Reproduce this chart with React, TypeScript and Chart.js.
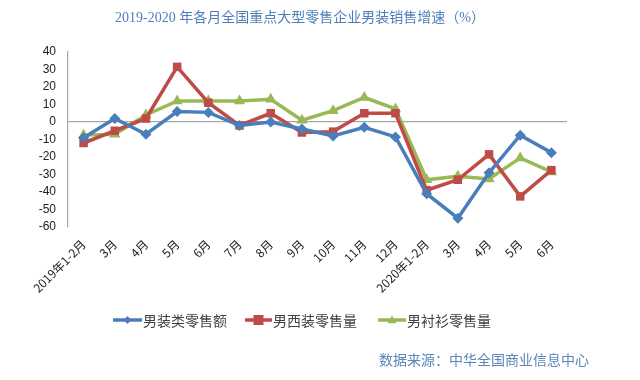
import React, { useEffect, useRef } from "react";
import { Chart, registerables } from "chart.js";

Chart.register(...registerables);

const categories = [
  "2019年1-2月", "3月", "4月", "5月", "6月", "7月", "8月", "9月", "10月", "11月", "12月",
  "2020年1-2月", "3月", "4月", "5月", "6月",
];
const menswearSales = [-9, 2, -7, 6, 5.5, -2, 0, -4, -8, -3, -8.5, -41, -55, -29, -7.5, -17.5];
const suitVolume = [-12, -5, 2, 31.5, 11, -2, 5, -6, -5.5, 5, 5, -39, -33, -18.5, -42.5, -27.5];
const shirtVolume = [-7.5, -7, 4, 12, 12, 12, 13, 1, 6.5, 14, 7.5, -33, -31, -32.5, -20.5, -28.5];
const seriesNames = ["男装类零售额", "男西装零售量", "男衬衫零售量"];
const yTicks = [40, 30, 20, 10, 0, -10, -20, -30, -40, -50, -60];
const titleText = "2019-2020 年各月全国重点大型零售企业男装销售增速（%）";
const sourceText = "数据来源：中华全国商业信息中心";

const COLORS = ["#4A7EBB", "#BE4B48", "#98B954"];
const STYLES = ["rectRot", "rect", "triangle"];
const SANS = '"Noto Sans CJK SC", "Noto Sans", sans-serif';

function drawMarker(ctx: CanvasRenderingContext2D, style: string, x: number, y: number, r: number) {
  ctx.beginPath();
  if (style === "rectRot") {
    ctx.moveTo(x, y - r);
    ctx.lineTo(x + r, y);
    ctx.lineTo(x, y + r);
    ctx.lineTo(x - r, y);
  } else if (style === "rect") {
    ctx.rect(x - r, y - r, 2 * r, 2 * r);
  } else {
    ctx.moveTo(x, y - r);
    ctx.lineTo(x + r, y + r * 0.7);
    ctx.lineTo(x - r, y + r * 0.7);
  }
  ctx.closePath();
  ctx.fill();
}

const decorPlugin = {
  id: "decor",
  afterDraw(chart: any) {
    const ctx = chart.ctx as CanvasRenderingContext2D;
    ctx.save();
    // title
    ctx.fillStyle = "#4F7FB8";
    ctx.font = '14px "Liberation Serif", "Noto Sans CJK SC", serif';
    ctx.textAlign = "center";
    ctx.textBaseline = "middle";
    ctx.fillText(titleText, 300, 18);
    // legend
    const lineX = [[113, 142], [245, 272], [378, 406]];
    const markR = [4, 5, 4.5];
    chart.data.datasets.forEach((ds: any, i: number) => {
      const [x0, x1] = lineX[i];
      const y = 320;
      ctx.strokeStyle = ds.borderColor;
      ctx.lineWidth = 3.5;
      ctx.beginPath();
      ctx.moveTo(x0, y);
      ctx.lineTo(x1, y);
      ctx.stroke();
      ctx.fillStyle = ds.borderColor;
      drawMarker(ctx, STYLES[i], (x0 + x1) / 2, y, markR[i]);
      ctx.fillStyle = "#404040";
      ctx.font = "14px " + SANS;
      ctx.textAlign = "left";
      ctx.fillText(ds.label, x1 + 1, y + 1);
    });
    // source
    ctx.fillStyle = "#5A86BB";
    ctx.font = "14px " + SANS;
    ctx.textAlign = "right";
    ctx.fillText(sourceText, 589, 360);
    ctx.restore();
  },
};

export default function App() {
  const ref = useRef<HTMLCanvasElement | null>(null);
  useEffect(() => {
    document.body.style.margin = "0";
    const series = [menswearSales, suitVolume, shirtVolume];
    const chart = new Chart(ref.current as HTMLCanvasElement, {
      type: "line",
      data: {
        labels: categories,
        datasets: series.map((d, i) => ({
          label: seriesNames[i],
          data: d,
          borderColor: COLORS[i],
          backgroundColor: COLORS[i],
          borderWidth: 3.5,
          pointStyle: STYLES[i] as any,
          pointRadius: i === 0 ? 5.5 : i === 1 ? 6 : 6.5,
          pointBorderWidth: 0,
          tension: 0,
          fill: false,
        })),
      },
      options: {
        responsive: false,
        animation: false,
        layout: { padding: { left: 8, right: 73, top: 52, bottom: 73 } },
        plugins: {
          legend: { display: false },
          title: { display: false },
          tooltip: { enabled: false },
        },
        scales: {
          x: {
            offset: true,
            grid: { display: false },
            border: { display: false },
            ticks: {
              autoSkip: false,
              minRotation: 45,
              maxRotation: 45,
              padding: 2,
              color: "#222",
              font: { family: SANS, size: 12 },
            },
            afterFit: (s: any) => {
              s.height = 80;
            },
          },
          y: {
            min: -60,
            max: 40,
            afterBuildTicks: (s: any) => {
              s.ticks = yTicks.map((v) => ({ value: v }));
            },
            grid: {
              drawTicks: false,
              color: (c: any) => (c.tick && c.tick.value === 0 ? "#A6A6A6" : "rgba(0,0,0,0)"),
              lineWidth: 1.2,
            },
            border: { display: true, color: "#A6A6A6", width: 1.2 },
            ticks: {
              padding: 12,
              color: "#222",
              font: { family: '"Liberation Sans", "Noto Sans", sans-serif', size: 12 },
            },
            afterFit: (s: any) => {
              s.width = 60;
            },
          },
        },
      },
      plugins: [decorPlugin],
    });
    return () => chart.destroy();
  }, []);
  return (
    <div style={{ width: 640, height: 380, background: "#fff" }}>
      <canvas ref={ref} width={640} height={380} />
    </div>
  );
}
